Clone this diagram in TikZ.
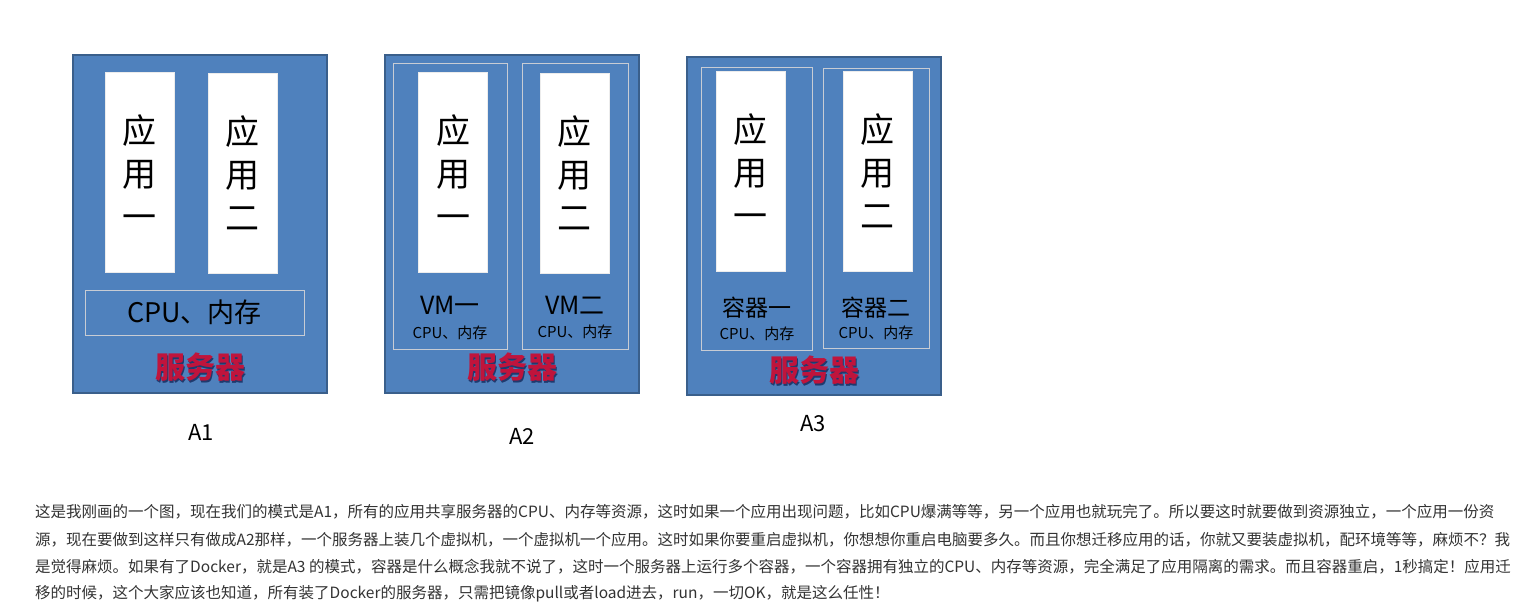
\documentclass[tikz,border=0pt]{standalone}
\usepackage{fontspec}
\setmainfont{Noto Sans CJK SC}
\usepackage{tikz}
\usetikzlibrary{positioning}
\definecolor{srvblue}{HTML}{4F81BD}
\definecolor{srvedge}{HTML}{3A5F8B}
\definecolor{boxline}{HTML}{C8CCD4}
\definecolor{srvred}{HTML}{C0143C}
\definecolor{srvshade}{HTML}{1F3A6E}
\definecolor{bodytext}{HTML}{333333}

% server name: red with a dark blue shade behind it
\newcommand{\srvname}{\makebox[0pt][l]{\hspace{1.5pt}\raisebox{-1.5pt}{\color{srvshade}服务器}}{\color{srvred}服务器}}

\tikzset{
  server/.style={draw=srvedge, line width=2.5pt, fill=srvblue,
    minimum width=254pt, minimum height=338pt, inner sep=0pt},
  vmbox/.style={draw=boxline, line width=0.9pt, minimum height=286pt, inner sep=0pt},
  appbox/.style={draw=white!85!gray, fill=white, minimum width=69pt,
    minimum height=200pt, inner sep=0pt, align=center,
    font=\fontsize{34}{43}\selectfont},
  vmname/.style={font=\fontsize{25}{25}\selectfont, inner sep=0pt},
  resname/.style={font=\fontsize{15}{15}\selectfont, inner sep=0pt},
  srvtext/.style={font=\fontsize{30}{30}\selectfont\bfseries, inner sep=0pt},
  caption/.style={font=\fontsize{22}{22}\selectfont, inner sep=0pt},
  bodyline/.style={anchor=west, inner sep=0pt, text=bodytext,
    font=\fontsize{15.5}{15.5}\selectfont}
}

\begin{document}
\begin{tikzpicture}[x=1pt, y=-1pt]
  \useasboundingbox[fill=white] (0,0) rectangle (1536,607);

  % A1
  \node[server] (srvA1) at (200,224) {};
  \node[appbox] (appA1a) at (139.5,172.5) {应\\用\\一};
  \node[appbox] (appA1b) at (242.5,173.5) {应\\用\\二};
  \node[draw=boxline, line width=0.9pt, minimum width=219pt, minimum height=45pt,
        inner sep=0pt, font=\fontsize{27}{27}\selectfont] (resA1) at (194.5,312.5) {CPU、内存};
  \node[srvtext] (nameA1) at (200,368) {\srvname};
  \node[caption] (capA1) at (201,432) {A1};

  % A2
  \node[server] (srvA2) at (512,224) {};
  \node[vmbox, minimum width=114pt] (vmA2a) at (450,206) {};
  \node[vmbox, minimum width=106pt] (vmA2b) at (575,206) {};
  \node[appbox] (appA2a) at (453,172) {应\\用\\一};
  \node[appbox] (appA2b) at (574.5,173) {应\\用\\二};
  \node[vmname] (vmnA2a) at (450,305) {VM一};
  \node[resname] (resA2a) at (450,333) {CPU、内存};
  \node[vmname] (vmnA2b) at (575,305) {VM二};
  \node[resname] (resA2b) at (575,332) {CPU、内存};
  \node[srvtext] (nameA2) at (512,368) {\srvname};
  \node[caption] (capA2) at (522,436) {A2};

  % A3
  \node[server] (srvA3) at (814,226) {};
  \node[vmbox, minimum width=111pt, minimum height=283pt] (ctA3a) at (756.5,208.5) {};
  \node[vmbox, minimum width=106pt, minimum height=280pt] (ctA3b) at (876,208) {};
  \node[appbox] (appA3a) at (750.5,171) {应\\用\\一};
  \node[appbox] (appA3b) at (877.5,171) {应\\用\\二};
  \node[vmname, font=\fontsize{23}{23}\selectfont] (ctnA3a) at (757,308) {容器一};
  \node[resname] (resA3a) at (757,334) {CPU、内存};
  \node[vmname, font=\fontsize{23}{23}\selectfont] (ctnA3b) at (876,308) {容器二};
  \node[resname] (resA3b) at (876,333) {CPU、内存};
  \node[srvtext] (nameA3) at (814,371) {\srvname};
  \node[caption] (capA3) at (813,424) {A3};

  % text below
  \node[bodyline] (line1) at (35,512) {这是我刚画的一个图，现在我们的模式是A1，所有的应用共享服务器的CPU、内存等资源，这时如果一个应用出现问题，比如CPU爆满等等，另一个应用也就玩完了。所以要这时就要做到资源独立，一个应用一份资};
  \node[bodyline] (line2) at (35,540) {源，现在要做到这样只有做成A2那样，一个服务器上装几个虚拟机，一个虚拟机一个应用。这时如果你要重启虚拟机，你想想你重启电脑要多久。而且你想迁移应用的话，你就又要装虚拟机，配环境等等，麻烦不？我};
  \node[bodyline] (line3) at (35,567) {是觉得麻烦。如果有了Docker，就是A3 的模式，容器是什么概念我就不说了，这时一个服务器上运行多个容器，一个容器拥有独立的CPU、内存等资源，完全满足了应用隔离的需求。而且容器重启，1秒搞定！应用迁};
  \node[bodyline] (line4) at (35,594) {移的时候，这个大家应该也知道，所有装了Docker的服务器，只需把镜像pull或者load进去，run，一切OK，就是这么任性！};
\end{tikzpicture}
\end{document}
